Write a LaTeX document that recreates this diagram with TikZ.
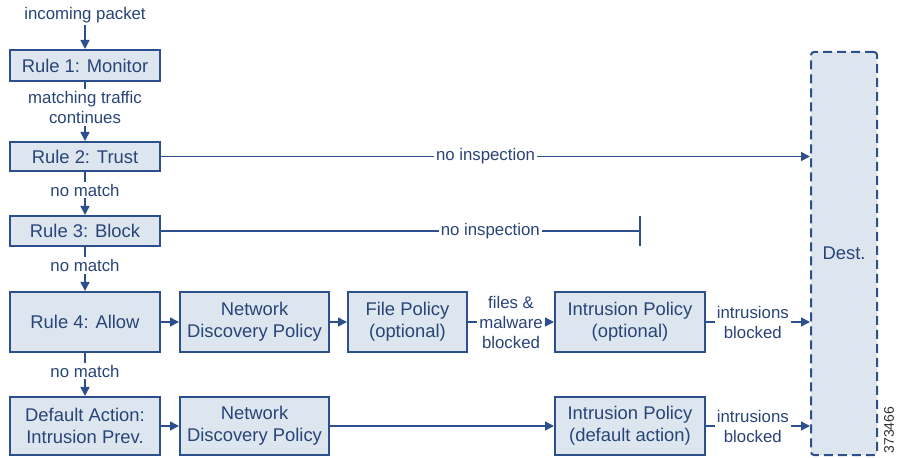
\documentclass[tikz,border=0pt]{standalone}
\usepackage{fontspec}
\setmainfont{Liberation Sans}
\usetikzlibrary{arrows.meta}
\definecolor{boxline}{RGB}{45,80,140}
\definecolor{boxfill}{RGB}{221,230,238}
\definecolor{textblue}{RGB}{40,68,120}
\tikzset{
  rulebox/.style={draw=boxline, fill=boxfill, line width=1pt, minimum width=75pt,
    align=center, text=textblue, font=\fontsize{9.2}{11}\selectfont, inner sep=0pt},
  flow/.style={draw=boxline, line width=0.8pt, -{Triangle[length=4.5pt,width=4.5pt]}},
  halt/.style={draw=boxline, line width=0.8pt, -{Bar[width=15pt,line width=0.8pt]}},
  lbl/.style={fill=white, text=textblue, font=\fontsize{8.4}{10}\selectfont,
    align=center, inner sep=1pt},
}
\begin{document}
\begin{tikzpicture}[x=0.5pt,y=-0.5pt]
\useasboundingbox (0,0) rectangle (898,458);

% rules on the left
\node[lbl] (in) at (85,15) {incoming packet};
\node[rulebox, minimum height=15.5pt] (R1) at (85,65.5) {Rule 1: Monitor};
\node[rulebox, minimum height=14.5pt] (R2) at (85,156.5) {Rule 2: Trust};
\node[rulebox, minimum height=15pt] (R3) at (85,231) {Rule 3: Block};
\node[rulebox, minimum height=30pt] (R4) at (85,322) {Rule 4: Allow};
\node[rulebox, minimum height=29pt] (DA) at (85,426) {Default Action:\\Intrusion Prev.};

% policies
\node[rulebox, minimum height=30pt, minimum width=74.5pt] (NDP1) at (254.5,322) {Network\\Discovery Policy};
\node[rulebox, minimum height=30pt, minimum width=59.5pt] (FP) at (407.5,322) {File Policy\\(optional)};
\node[rulebox, minimum height=30pt] (IP1) at (630,322) {Intrusion Policy\\(optional)};
\node[rulebox, minimum height=29pt, minimum width=74.5pt] (NDP2) at (254.5,426) {Network\\Discovery Policy};
\node[rulebox, minimum height=29pt] (IP2) at (630,426) {Intrusion Policy\\(default action)};

% destination
\node[rulebox, dashed, dash pattern=on 4.5pt off 2.5pt, rounded corners=1.5pt,
  minimum width=33pt, minimum height=201.5pt] (dest) at (844,253.5) {Dest.};
\coordinate (stop) at (641,231);

\draw[flow] (in) -- (R1);
\draw[flow] (R1) -- node[lbl, pos=0.43] {matching traffic\\continues} (R2);
\draw[flow] (R2) -- node[lbl, pos=0.42] {no match} (R3);
\draw[flow] (R3) -- node[lbl, pos=0.42] {no match} (R4);
\draw[flow] (R4) -- node[lbl, pos=0.42] {no match} (DA);

\draw[flow] (R2) -- node[lbl] {no inspection} (R2 -| dest.west);
\draw[halt] (R3) -- node[lbl, pos=0.686] {no inspection} (stop);

\draw[flow] (R4) -- (NDP1);
\draw[flow] (NDP1) -- (FP);
\draw[flow] (FP) -- node[lbl] {files \&\\malware\\blocked} (IP1);
\draw[flow] (IP1) -- node[lbl, pos=0.45] {intrusions\\blocked} (IP1 -| dest.west);

\draw[flow] (DA) -- (NDP2);
\draw[flow] (NDP2) -- (IP2);
\draw[flow] (IP2) -- node[lbl, pos=0.45] {intrusions\\blocked} (IP2 -| dest.west);

\node[rotate=90, font=\fontsize{7}{8}\selectfont, text=black!80] (fig) at (889,430) {373466};
\end{tikzpicture}
\end{document}
